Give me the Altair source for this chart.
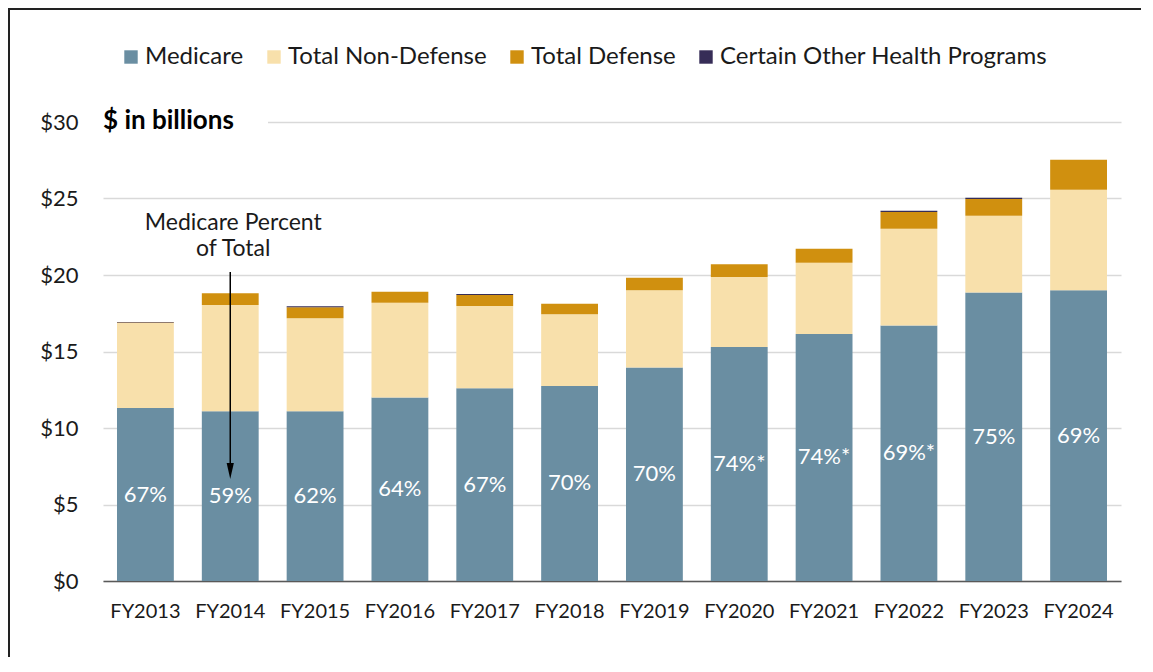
import altair as alt
import pandas as pd

years = ["FY2013", "FY2014", "FY2015", "FY2016", "FY2017", "FY2018",
         "FY2019", "FY2020", "FY2021", "FY2022", "FY2023", "FY2024"]
medicare = [11.3, 11.1, 11.1, 12.0, 12.6, 12.75, 13.95, 15.3, 16.15, 16.7, 18.85, 19.0]
non_defense = [5.56, 6.94, 6.07, 6.19, 5.37, 4.68, 5.05, 4.57, 4.65, 6.33, 5.03, 6.58]
defense = [0.03, 0.76, 0.72, 0.71, 0.72, 0.69, 0.82, 0.83, 0.92, 1.09, 1.09, 1.96]
other_health = [0.04, 0.0, 0.06, 0.0, 0.07, 0.0, 0.0, 0.0, 0.0, 0.08, 0.08, 0.0]
pct_labels = ["67%", "59%", "62%", "64%", "67%", "70%", "70%", "74%*", "74%*", "69%*", "75%", "69%"]

series_names = ["Medicare", "Total Non-Defense", "Total Defense", "Certain Other Health Programs"]
series_colors = ["#6A8EA2", "#F8E0AB", "#D0900F", "#362D57"]
y_ticks = [0, 5, 10, 15, 20, 25, 30]

FONT = "Lato"

rows = []
for i, y in enumerate(years):
    for k, (name, vals) in enumerate(zip(series_names, [medicare, non_defense, defense, other_health])):
        rows.append({"year": y, "series": name, "value": vals[i], "ord": k})
long_df = pd.DataFrame(rows)

lab_df = pd.DataFrame({"year": years, "mid": [m / 2 for m in medicare], "label": pct_labels})

x_enc = alt.X("year:N", sort=years,
              scale=alt.Scale(paddingInner=0.33, paddingOuter=0.165),
              axis=alt.Axis(title=None, labelAngle=0, labelFontSize=20, labelFont=FONT,
                            labelColor="#1a1a1a", ticks=False, domainColor="#595959",
                            domainWidth=1.5, labelPadding=20, grid=False))

y_scale = alt.Scale(domain=[0, 30], nice=False)

bars = alt.Chart(long_df).mark_bar().encode(
    x=x_enc,
    y=alt.Y("value:Q", stack="zero", scale=y_scale,
            axis=alt.Axis(title=None, values=y_ticks, labelExpr="'$' + datum.value",
                          labelFontSize=22, labelFont=FONT, labelColor="#1a1a1a",
                          ticks=False, domain=False, labelPadding=25,
                          gridColor="#d9d9d9", gridWidth=1.5)),
    color=alt.Color("series:N", sort=series_names,
                    scale=alt.Scale(domain=series_names, range=series_colors),
                    legend=alt.Legend(title=None, orient="none", legendX=16, legendY=-77,
                                      direction="horizontal", columns=4,
                                      symbolType="square", symbolSize=180,
                                      symbolStrokeWidth=0, labelFontSize=24,
                                      labelFont=FONT, labelColor="#1a1a1a",
                                      labelOffset=2, columnPadding=18, labelLimit=500,
                                      padding=0)),
    order=alt.Order("ord:Q"),
)

one = pd.DataFrame({"a": [0]})

# white patch hiding the $30 gridline behind the unit label
patch = alt.Chart(one).mark_rect(color="white").encode(
    x=alt.value(0), x2=alt.value(165), y=alt.value(-4), y2=alt.value(4))

unit_title = alt.Chart(one).mark_text(
    text="$ in billions", align="left", baseline="middle", font=FONT,
    fontSize=26, fontWeight="bold", color="#000000").encode(
    x=alt.value(0), y=alt.value(-1))

pct = alt.Chart(lab_df).mark_text(color="white", fontSize=22, font=FONT,
                                  baseline="middle").encode(
    x=alt.X("year:N", sort=years), y=alt.Y("mid:Q"), text="label:N")

arrow_df = pd.DataFrame({"year": ["FY2014"], "y0": [20.2], "y1": [7.65], "head": [7.19]})
arrow_line = alt.Chart(arrow_df).mark_rule(color="black", strokeWidth=1.5).encode(
    x=alt.X("year:N", sort=years), y="y0:Q", y2="y1:Q")
arrow_head = alt.Chart(arrow_df).mark_point(
    shape="M-0.45,-1L0.45,-1L0,1Z", filled=True, color="black", size=256, opacity=1).encode(
    x=alt.X("year:N", sort=years), y="head:Q")

ann_df = pd.DataFrame({"year": ["FY2014"], "y": [23.4], "t": ["Medicare Percent\nof Total"]})
annot = alt.Chart(ann_df).mark_text(
    fontSize=23, font=FONT, color="#1a1a1a", align="center", baseline="middle",
    lineBreak="\n", lineHeight=26, dx=3).encode(
    x=alt.X("year:N", sort=years), y="y:Q", text="t:N")

# outer frame (left and top edges), drawn as thin filled rects
frame_top = alt.Chart(one).mark_rect(color="#222222").encode(
    x=alt.value(-95), x2=alt.value(1038), y=alt.value(-114), y2=alt.value(-112))
frame_left = alt.Chart(one).mark_rect(color="#222222").encode(
    x=alt.value(-95), x2=alt.value(-93), y=alt.value(-114), y2=alt.value(535))

chart = alt.layer(bars, patch, unit_title, pct, arrow_line, arrow_head, annot,
                  frame_top, frame_left).properties(
    width=1018, height=459, padding=0, background="white"
).configure_view(stroke=None)

chart.save("out.html", embed_options={"renderer": "svg", "actions": False})
